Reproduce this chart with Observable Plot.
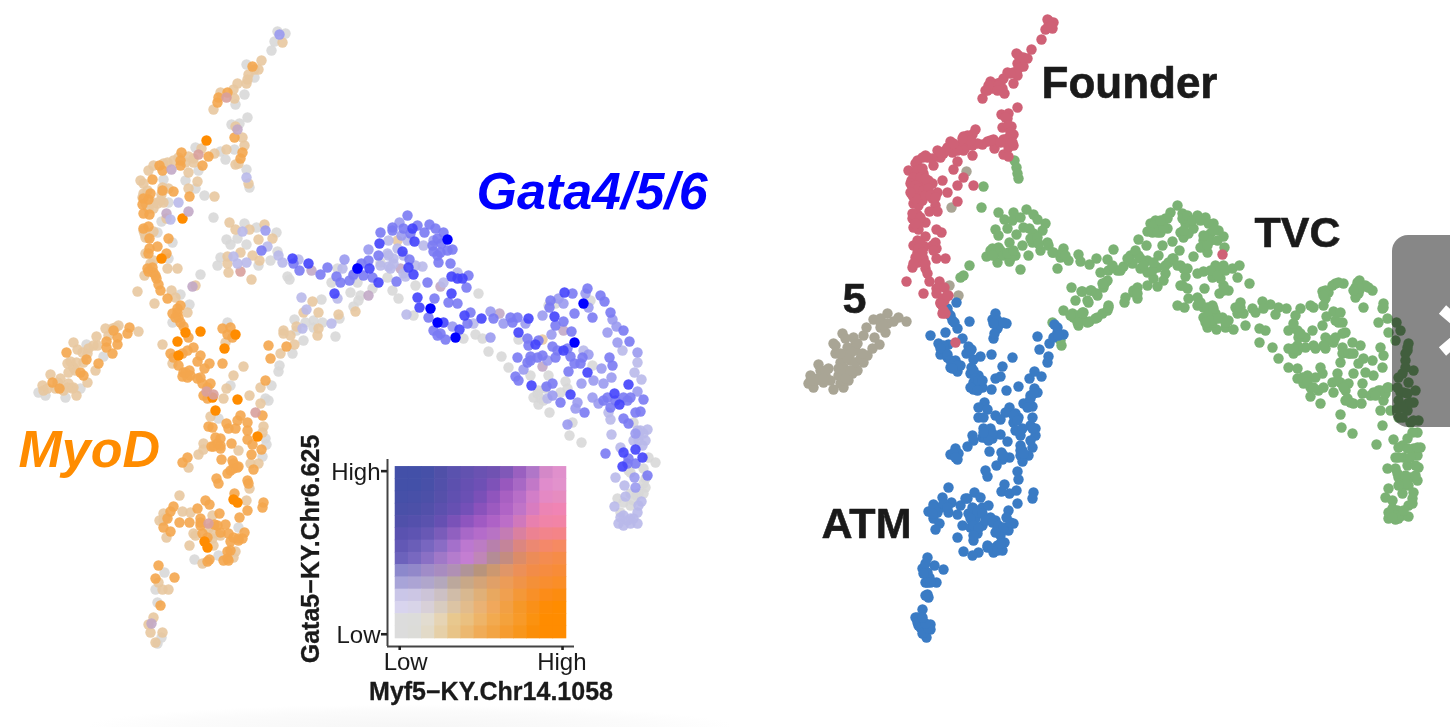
<!DOCTYPE html>
<html><head><meta charset="utf-8">
<script src="https://cdn.jsdelivr.net/npm/d3@7"></script>
<script src="https://cdn.jsdelivr.net/npm/@observablehq/plot@0.6"></script>
<style>
html,body{margin:0;padding:0;background:#fff;overflow:hidden;width:1450px;height:727px}
#stage{position:relative;width:1450px;height:727px;font-family:"Liberation Sans",Arial,sans-serif}
#stage>svg{position:absolute;filter:blur(.5px)}
#shade{position:absolute;left:90px;top:705px;width:640px;height:22px;background:radial-gradient(ellipse at 50% 100%,#f6f6f6 0%,#fbfbfb 50%,rgba(255,255,255,0) 72%)}
</style></head><body><div id="stage"><div id="shade"></div></div>
<script>
// ---- left panel: embedding positions grouped by expression colour class
const leftGrey=[[277,31],[285,33],[274,41],[271,50],[246,64],[254,77],[244,94],[235,104],[247,117],[231,124],[239,123],[195,147],[220,151],[234,149],[225,159],[246,169],[249,187],[163,179],[198,170],[185,180],[195,188],[204,195],[213,217],[168,202],[161,221],[157,232],[172,242],[168,258],[200,274],[180,294],[189,304],[172,322],[227,322],[292,353],[279,365],[278,371],[86,344],[103,356],[80,388],[65,397],[45,395],[38,392],[230,385],[271,385],[218,418],[265,398],[268,400],[265,438],[266,444],[262,456],[238,527],[218,555],[194,559],[164,572],[155,589],[157,602],[161,637],[157,643],[244,223],[256,227],[276,232],[226,239],[237,238],[230,244],[246,244],[277,251],[220,257],[270,260],[258,265],[217,265],[287,276],[289,279],[337,268],[331,282],[357,282],[321,299],[353,306],[358,300],[294,319],[313,320],[305,322],[339,318],[313,327],[387,277],[415,285],[478,293],[413,315],[463,338],[475,334],[488,351],[501,356],[508,367],[518,339],[565,381],[548,375],[538,390],[538,404],[549,412],[592,365],[633,422],[572,422],[569,435],[581,442],[648,457],[643,468],[645,478],[645,487],[643,493],[617,498],[548,305],[555,303],[590,300],[380,262],[372,288],[360,295],[350,292],[392,290],[398,298],[322,322],[335,336],[296,330],[303,340],[482,338],[530,375],[540,398],[545,388],[628,470],[636,495],[630,505],[655,462],[630,493],[638,493],[633,500],[623,502],[620,512],[643,483],[630,472],[533,397],[543,400],[537,393],[567,388],[560,392]];
const leftTan=[[282,42],[261,60],[258,69],[254,69],[248,74],[247,79],[237,83],[246,83],[233,89],[220,92],[234,98],[213,109],[235,126],[242,137],[244,145],[201,148],[188,156],[193,162],[214,153],[226,149],[235,164],[238,163],[248,183],[167,162],[153,165],[148,170],[140,180],[143,183],[188,172],[197,181],[188,188],[214,196],[168,188],[161,194],[143,193],[163,202],[157,203],[153,208],[166,218],[153,231],[144,233],[145,237],[145,253],[153,260],[150,263],[167,268],[177,268],[144,275],[195,285],[137,291],[171,290],[175,297],[154,303],[187,312],[162,344],[172,363],[243,366],[233,375],[226,388],[223,398],[249,395],[260,387],[225,342],[283,333],[294,344],[280,353],[138,331],[118,325],[105,328],[96,336],[93,345],[73,342],[77,349],[87,353],[70,361],[76,362],[95,370],[50,374],[87,382],[60,378],[42,385],[43,390],[72,388],[76,395],[55,388],[68,383],[63,390],[73,367],[67,363],[210,416],[260,403],[263,426],[262,432],[258,463],[250,463],[238,450],[203,443],[203,449],[198,454],[188,467],[249,488],[246,500],[179,495],[182,511],[163,513],[159,520],[190,512],[212,515],[166,537],[193,533],[212,538],[189,545],[235,551],[202,563],[233,557],[158,582],[162,589],[168,589],[153,617],[148,624],[162,632],[150,632],[155,642],[229,222],[235,229],[249,229],[264,224],[272,238],[258,239],[227,256],[240,252],[252,255],[259,260],[227,263],[228,272],[251,279],[312,301],[318,312],[338,314],[355,311],[318,328],[283,330],[397,240],[542,339],[303,312],[296,326],[317,335],[290,335],[112,328],[115,327],[108,335],[97,345],[88,348],[82,352],[83,362],[75,370],[68,372],[57,382],[47,388],[58,383],[67,387],[73,387],[147,190],[142,197],[145,203],[148,208],[160,200],[153,202],[162,187],[185,162],[178,157],[193,158],[173,160],[163,163],[143,230],[147,237],[165,517],[163,520],[208,528],[220,535],[213,533],[195,535],[213,545]];
const leftOrange=[[252,66],[227,92],[218,97],[217,102],[234,137],[181,152],[180,160],[202,165],[208,156],[242,152],[240,158],[159,165],[162,170],[180,165],[152,179],[189,196],[173,191],[162,190],[150,193],[143,198],[148,199],[142,204],[143,213],[149,214],[148,226],[143,228],[149,238],[168,238],[157,246],[149,248],[148,253],[166,253],[148,271],[153,272],[156,278],[158,284],[160,290],[167,298],[180,305],[177,308],[172,313],[178,317],[180,322],[183,326],[188,337],[193,347],[187,350],[182,353],[170,353],[173,357],[178,365],[200,355],[197,361],[209,363],[204,368],[183,372],[189,370],[187,377],[182,376],[200,377],[202,383],[210,383],[207,398],[222,363],[265,380],[222,328],[230,327],[227,334],[232,337],[268,345],[270,358],[286,346],[129,327],[113,330],[127,333],[117,337],[106,341],[117,344],[106,347],[112,353],[66,352],[86,359],[98,363],[80,372],[83,375],[52,382],[59,388],[208,426],[212,427],[237,420],[226,423],[240,415],[247,422],[228,428],[235,428],[247,430],[262,415],[247,439],[252,444],[261,449],[251,454],[253,469],[231,443],[215,437],[220,438],[213,446],[220,448],[211,446],[221,459],[232,460],[238,466],[233,468],[230,470],[227,473],[187,457],[182,462],[216,478],[218,483],[247,480],[234,493],[247,510],[263,502],[262,507],[173,506],[205,500],[209,504],[197,508],[170,511],[167,518],[200,518],[219,513],[239,517],[179,522],[189,522],[214,524],[225,524],[200,525],[163,527],[170,531],[202,533],[220,532],[228,533],[244,532],[242,538],[230,541],[238,540],[227,551],[209,559],[207,561],[223,560],[228,560],[158,565],[155,578],[174,577],[160,605],[152,267],[147,268],[155,275],[177,312],[175,317],[185,372],[190,375],[197,378],[207,387],[203,395],[217,443],[220,445],[233,463],[237,467],[248,483],[200,522],[217,525],[233,537],[238,538],[230,550],[207,537],[227,558]];
const leftDeep=[[206,140],[182,218],[161,258],[185,332],[177,341],[200,331],[178,355],[212,397],[237,399],[235,334],[224,348],[215,410],[257,436],[233,499],[237,502],[204,541],[207,547]];
const leftMauve=[[171,169],[188,211],[166,213],[311,270],[237,129],[192,286],[400,268],[440,286],[499,313],[563,330],[542,366],[151,623],[368,295]];
const leftPink=[[226,97],[198,154],[206,391],[213,394],[255,412],[240,271],[208,523]];
const leftPale=[[246,177],[178,202],[170,219],[242,231],[233,256],[246,262],[237,263],[306,309],[301,297],[302,328],[331,323],[337,298],[282,262],[298,259],[278,255],[267,246],[342,268],[353,275],[388,266],[405,276],[388,255],[393,258],[388,240],[423,245],[422,266],[457,272],[443,282],[406,314],[473,323],[547,398],[583,350],[608,412],[610,419],[611,434],[640,430],[647,429],[645,440],[638,440],[620,447],[615,477],[624,485],[637,362],[634,372],[641,379],[622,350],[625,496],[641,501],[638,505],[637,512],[614,506],[623,515],[630,518],[618,523],[623,525],[630,523],[637,523],[407,240],[397,248],[387,253],[403,255],[393,263],[380,265],[390,268],[415,265],[403,273],[637,430],[638,435],[643,433],[633,440],[642,445],[620,517],[627,520],[633,518]];
const leftSoft=[[279,34],[265,230],[344,259],[368,249],[401,235],[399,222],[433,240],[452,326],[490,311],[503,323],[525,323],[490,337],[523,369],[547,360],[558,298],[585,293],[563,303],[588,307],[612,319],[607,332],[617,342],[637,352],[616,326],[588,354],[581,383],[601,368],[611,377],[593,380],[603,383],[577,402],[575,408],[598,403],[542,315],[637,391],[635,433],[567,424],[634,477],[635,487],[551,334],[552,395],[592,397]];
const leftMid=[[299,270],[320,274],[327,267],[336,276],[340,282],[349,280],[293,263],[261,250],[353,274],[361,263],[368,260],[378,255],[363,275],[372,277],[396,281],[409,259],[380,232],[392,227],[407,215],[403,228],[417,225],[424,232],[429,224],[435,228],[443,232],[441,243],[433,251],[440,252],[452,249],[438,262],[450,263],[468,275],[466,287],[427,282],[448,302],[457,303],[434,298],[428,317],[470,312],[467,323],[493,318],[510,317],[517,317],[512,322],[527,338],[528,345],[538,340],[549,307],[563,321],[555,325],[552,346],[555,357],[542,355],[530,356],[517,357],[515,376],[518,380],[527,362],[571,331],[567,348],[570,356],[574,363],[582,357],[568,371],[612,365],[609,357],[546,386],[560,402],[584,412],[623,397],[643,399],[640,411],[635,412],[623,418],[628,423],[628,458],[635,463],[627,463],[647,475],[572,293],[550,300],[587,288],[600,295],[604,301],[592,317],[574,313],[610,312],[623,330],[629,341],[433,330],[440,333],[445,339],[437,335],[605,453],[552,383],[437,238],[432,245],[447,250],[437,255],[392,230],[410,233],[603,400],[607,397],[615,400],[627,400],[630,397],[610,407],[557,350],[537,357],[530,360],[580,363]];
const leftStrong=[[292,258],[308,263],[357,268],[334,293],[369,268],[378,282],[408,267],[413,274],[402,251],[379,243],[412,228],[414,241],[451,276],[457,278],[462,278],[451,293],[417,297],[419,307],[443,322],[464,315],[481,318],[528,318],[518,332],[535,344],[554,316],[563,350],[587,372],[531,385],[570,394],[614,393],[619,404],[628,384],[623,452],[635,449],[642,457],[622,466],[564,292],[459,329]];
const leftPure=[[447,239],[430,308],[437,322],[455,337],[574,342],[583,303],[357,268]];
// ---- right panel: embedding positions by cluster
const founder=[[1047,19],[1053,22],[1048,25],[1052,28],[1045,29],[1041,39],[1031,49],[1016,53],[1027,58],[1020,58],[1017,63],[1023,66],[1013,72],[1007,72],[1017,75],[1013,83],[1003,78],[997,83],[990,81],[1002,88],[1004,93],[992,88],[987,90],[982,98],[1017,107],[1001,114],[1008,113],[1007,118],[1002,127],[1011,126],[1013,134],[1009,140],[1003,139],[1013,145],[1008,147],[1003,154],[1008,156],[994,148],[993,139],[987,141],[982,144],[975,129],[972,134],[963,136],[968,140],[972,145],[972,155],[965,147],[950,141],[958,145],[948,147],[952,152],[943,153],[937,150],[940,157],[957,161],[932,158],[925,155],[917,160],[933,165],[953,169],[963,177],[957,185],[973,185],[918,167],[908,170],[915,173],[923,173],[928,180],[942,180],[911,180],[918,182],[923,185],[932,183],[912,187],[917,192],[937,192],[947,192],[927,193],[932,198],[912,195],[913,203],[922,200],[918,205],[935,205],[957,201],[929,211],[937,211],[917,214],[912,218],[925,222],[918,222],[913,227],[918,229],[936,229],[941,232],[925,236],[917,240],[935,242],[913,245],[924,246],[917,252],[936,248],[936,258],[945,258],[923,258],[917,262],[912,267],[925,268],[927,273],[929,281],[906,281],[939,281],[936,288],[944,287],[936,293],[923,293],[948,295],[944,300],[941,304],[942,313],[945,313],[947,295],[955,342],[1222,254],[940,302],[1048,20],[1050,26],[1018,55],[1023,57],[1018,68],[1010,73],[1000,82],[993,85],[998,85],[988,85],[997,90],[985,90],[1005,117],[1008,125],[1010,132],[1007,138],[1000,142],[1012,142],[990,140],[977,143],[967,135],[970,140],[962,138],[963,150],[957,150],[945,150],[947,147],[953,143],[940,152],[927,157],[922,157],[915,163],[917,170],[922,168],[913,177],[920,177],[925,178],[910,183],[915,185],[918,188],[923,190],[928,188],[915,198],[925,195],[930,195],[935,197],[910,192],[915,220],[912,213],[920,217],[915,223],[917,243],[920,243],[918,248],[932,245],[933,250],[922,252],[915,257],[913,263],[925,263],[943,298],[947,295],[940,303],[943,310]];
const tvc=[[1014,160],[1016,167],[1017,173],[1018,178],[983,186],[981,207],[998,212],[1013,212],[1026,209],[1004,219],[1012,220],[1020,217],[1033,214],[1037,219],[1045,223],[995,229],[1007,228],[998,235],[1023,227],[1029,228],[1042,230],[1016,234],[1033,237],[1009,242],[1022,245],[1032,242],[1047,242],[1040,250],[992,248],[998,247],[1002,253],[986,256],[993,253],[1008,252],[1015,255],[997,262],[1009,261],[1028,255],[969,265],[963,275],[960,277],[1020,269],[1052,252],[1063,248],[1060,257],[1068,260],[1078,254],[1080,261],[1057,268],[1089,264],[1096,258],[1113,249],[1107,259],[1100,272],[1108,270],[1117,270],[1123,266],[1130,255],[1138,239],[1146,245],[1138,255],[1147,260],[1132,263],[1140,268],[1147,272],[1157,267],[1153,278],[1158,255],[1162,245],[1150,223],[1147,231],[1157,227],[1165,218],[1170,212],[1155,220],[1160,232],[1167,228],[1177,205],[1182,213],[1188,218],[1185,223],[1197,215],[1205,217],[1213,223],[1180,232],[1193,228],[1183,237],[1172,241],[1210,233],[1218,230],[1223,236],[1203,240],[1200,247],[1224,247],[1207,252],[1179,250],[1193,256],[1172,258],[1165,265],[1180,265],[1187,268],[1197,273],[1203,271],[1185,276],[1165,273],[1163,280],[1157,286],[1147,285],[1137,287],[1133,292],[1137,298],[1125,297],[1124,302],[1105,282],[1103,287],[1090,290],[1082,291],[1071,287],[1097,295],[1075,300],[1088,302],[1063,310],[1072,313],[1082,312],[1108,305],[1107,310],[1102,313],[1097,317],[1089,321],[1078,325],[1082,318],[1073,317],[1180,285],[1187,288],[1204,288],[1219,293],[1228,290],[1223,285],[1212,277],[1220,278],[1215,265],[1223,265],[1232,268],[1239,265],[1237,277],[1249,283],[1177,305],[1184,307],[1188,298],[1197,297],[1197,305],[1203,307],[1212,305],[1203,317],[1215,313],[1222,317],[1228,320],[1207,327],[1216,329],[1225,327],[1233,329],[1212,322],[1240,302],[1235,307],[1243,313],[1237,313],[1252,308],[1255,312],[1262,301],[1270,304],[1263,308],[1278,307],[1286,308],[1275,314],[1245,325],[1259,328],[1265,330],[1259,342],[1272,347],[1278,358],[1288,367],[1297,368],[1288,348],[1293,353],[1300,308],[1295,315],[1288,330],[1297,330],[1298,337],[1305,337],[1312,330],[1313,307],[1310,305],[1322,291],[1335,283],[1343,283],[1328,292],[1325,298],[1323,305],[1333,311],[1340,312],[1326,316],[1322,325],[1335,320],[1342,322],[1345,332],[1325,337],[1333,342],[1313,345],[1305,347],[1297,350],[1325,348],[1342,347],[1352,342],[1360,345],[1350,353],[1363,358],[1340,362],[1358,363],[1372,360],[1380,347],[1383,355],[1382,367],[1353,373],[1373,375],[1365,372],[1337,373],[1320,367],[1322,373],[1307,375],[1315,377],[1297,378],[1303,383],[1310,387],[1318,390],[1310,396],[1320,403],[1332,382],[1333,392],[1340,382],[1348,383],[1345,390],[1347,398],[1353,403],[1361,403],[1362,383],[1362,393],[1370,395],[1378,390],[1388,387],[1383,400],[1380,410],[1390,410],[1340,414],[1341,427],[1352,433],[1382,425],[1376,444],[1359,280],[1355,287],[1365,285],[1372,290],[1358,293],[1355,297],[1363,307],[1383,303],[1382,308],[1387,318],[1378,322],[1388,332],[1396,322],[1400,330],[1395,340],[1408,343],[1407,350],[1405,360],[1413,370],[1398,377],[1408,382],[1397,387],[1415,390],[1403,392],[1398,400],[1413,402],[1407,403],[1397,408],[1407,410],[1398,417],[1418,420],[1410,422],[1417,432],[1407,438],[1393,439],[1420,447],[1402,445],[1413,448],[1395,457],[1417,455],[1403,457],[1387,468],[1395,468],[1418,467],[1407,465],[1398,477],[1410,477],[1417,480],[1402,485],[1408,485],[1388,488],[1413,492],[1402,493],[1385,497],[1392,500],[1412,498],[1408,505],[1397,510],[1390,513],[1402,515],[1408,516],[1395,519],[1388,518],[1052,322],[1061,345],[1060,340],[1081,291],[1091,290],[1096,293],[1087,300],[1083,312],[1095,318],[1087,322],[1153,225],[1152,232],[1157,232],[1162,223],[1167,218],[1163,227],[1160,220],[1182,218],[1187,215],[1192,220],[1200,220],[1208,223],[1213,230],[1210,240],[1203,235],[1188,233],[1183,230],[1207,245],[1217,240],[1215,268],[1220,270],[1210,270],[1217,275],[1225,270],[1223,290],[1135,250],[1127,258],[1120,270],[1112,265],[1140,258],[1143,265],[1152,270],[1153,262],[1168,262],[1173,258],[1177,265],[1183,268],[1182,285],[1107,280],[1102,283],[1133,290],[1137,293],[1108,307],[1077,315],[1082,313],[1070,315],[1077,322],[1200,302],[1207,307],[1213,308],[1207,315],[1210,320],[1218,318],[1225,322],[1205,322],[1240,307],[1293,323],[1300,333],[1325,290],[1332,285],[1338,282],[1323,295],[1338,322],[1342,333],[1330,340],[1335,337],[1323,345],[1297,345],[1293,348],[1315,348],[1342,353],[1348,353],[1353,353],[1302,377],[1307,382],[1313,387],[1323,387],[1337,380],[1343,387],[1345,400],[1350,402],[1373,392],[1380,390],[1385,393],[1387,387],[1375,395],[1357,282],[1360,288],[1368,287],[1353,290],[1383,307],[1407,347],[1405,353],[1405,367],[1402,373],[1400,392],[1407,393],[1410,402],[1402,407],[1402,417],[1413,420],[1412,432],[1398,447],[1407,448],[1417,447],[1398,457],[1410,457],[1415,465],[1397,473],[1405,475],[1415,475],[1405,483],[1398,485],[1412,503],[1392,508],[1395,515],[1398,518],[1403,510],[1388,512],[1392,517],[997,248],[995,253],[1000,250],[990,250],[992,255],[1003,255],[1010,258],[1007,253],[1013,250],[1033,233],[1030,238],[1037,237],[1038,243],[1048,245],[1053,252],[1062,252],[1065,255]];
const atm=[[956,302],[947,308],[950,315],[954,322],[957,328],[969,321],[930,335],[945,332],[962,338],[938,343],[948,344],[944,348],[940,354],[968,346],[971,349],[966,353],[947,357],[955,360],[950,367],[957,371],[960,365],[980,356],[973,359],[991,354],[1012,357],[1002,366],[995,317],[1000,323],[1006,323],[992,319],[997,328],[993,338],[994,333],[971,367],[970,373],[978,375],[973,382],[980,383],[973,389],[982,387],[995,378],[1000,376],[991,389],[1006,390],[1018,386],[1029,378],[1034,371],[1041,376],[1037,336],[1049,343],[1039,349],[1048,356],[1047,362],[1054,324],[1057,332],[1063,334],[1053,337],[1034,388],[1037,392],[1030,395],[1028,402],[1023,403],[1032,406],[984,402],[978,407],[987,409],[1009,407],[1005,412],[1015,413],[1018,417],[1032,417],[978,417],[983,417],[995,415],[1000,419],[1013,422],[1030,425],[1035,428],[1015,430],[1022,428],[983,428],[990,428],[987,433],[982,437],[992,438],[1000,434],[972,435],[973,440],[967,446],[1035,435],[1020,435],[1007,441],[1030,440],[1032,447],[1020,445],[1022,450],[989,451],[1001,452],[955,448],[950,454],[958,453],[957,459],[1009,457],[1002,459],[996,465],[1020,455],[1028,455],[1022,461],[985,470],[987,476],[1017,471],[1018,479],[948,487],[1004,484],[1001,491],[1009,493],[1016,490],[1017,503],[1033,492],[1032,498],[974,492],[967,498],[942,497],[980,497],[951,502],[960,505],[933,504],[928,511],[940,507],[948,512],[957,514],[933,518],[939,523],[935,529],[973,508],[982,507],[988,505],[968,513],[990,517],[975,518],[962,525],[970,527],[982,525],[995,520],[1008,510],[1006,517],[1013,523],[1008,530],[997,528],[1000,535],[977,533],[957,537],[973,540],[1004,542],[997,545],[987,547],[993,552],[1002,550],[963,551],[978,552],[972,555],[927,557],[922,568],[934,565],[943,569],[927,572],[929,577],[925,582],[936,582],[927,594],[928,597],[922,609],[917,617],[922,620],[930,624],[918,625],[925,628],[930,629],[922,633],[926,637],[948,313],[952,320],[995,313],[997,320],[1003,322],[993,323],[1057,327],[1058,335],[943,345],[940,348],[947,354],[950,360],[953,363],[957,365],[952,368],[970,350],[973,370],[975,378],[978,380],[970,387],[977,390],[982,380],[1030,398],[1033,393],[1027,407],[1013,415],[1017,420],[1032,428],[987,430],[985,437],[992,433],[988,440],[983,432],[1020,450],[1023,453],[953,453],[955,457],[1003,455],[933,507],[937,512],[932,513],[943,503],[947,507],[965,498],[972,507],[977,512],[982,513],[970,518],[973,525],[978,528],[985,520],[992,522],[998,525],[1003,527],[1010,522],[995,532],[973,535],[987,545],[992,548],[997,550],[1000,543],[925,563],[923,573],[927,582],[930,582],[925,595],[915,617],[917,622],[920,627],[923,632],[928,628],[925,623],[922,617]];
const five=[[887,313],[880,318],[873,319],[898,317],[906,321],[893,321],[887,323],[880,327],[866,327],[885,332],[842,333],[853,337],[863,335],[874,337],[845,338],[833,343],[879,344],[855,343],[847,347],[872,348],[835,353],[855,350],[867,355],[843,355],[863,362],[818,364],[850,360],[840,362],[828,368],[820,370],[843,367],[857,370],[852,373],[810,375],[825,375],[838,375],[817,378],[808,383],[830,380],[848,380],[840,383],[813,387],[823,382],[843,387],[833,389],[966,171],[951,207],[949,285],[958,295],[880,322],[883,325],[857,343],[850,353],[847,358],[855,362],[860,358],[838,368],[843,373],[850,370],[820,377],[825,370],[815,380],[810,380],[823,378],[842,380],[845,378],[862,353],[840,353],[835,345]];
// ---- text labels
const labelText=["Founder","TVC","5","ATM"], labelX=[1041,1254,842,821], labelY=[83,233,299,524], labelSize=[44,43,43,43];
const geneText=["Gata4/5/6","MyoD"], geneX=[476,18], geneY=[192,450], geneFill=["#0000ff","#ff8c00"];
// ---- viewer overlay
const overlayBox=[{x1:1392,x2:1490,y1:235,y2:427}];
const overlayArrow=[[1442,309],[1466,330],[1442,351]];
// ---- blend legend: colours, top row = high Gata5, left column = low Myf5
const blendRows=[
["#4350a8","#4350a8","#4650a8","#5050a8","#5a52ae","#6252b0","#6a52b2","#7052b2","#8058b8","#9a60c0","#b076c8","#d488c8","#e090cc"],
["#4350a8","#4350a8","#4850a8","#5250aa","#5c50ae","#6650b2","#6e50b5","#7e52b8","#9858be","#a868c5","#c278c8","#e08ccc","#e292cc"],
["#4650a8","#4850a8","#4c50a8","#5650aa","#6050b0","#6a50b4","#7a50b8","#9055bd","#a860c2","#b86ec8","#d27ec8","#e489c4","#e68cc0"],
["#4a50a8","#4c50a8","#5250aa","#5c50ae","#6650b2","#7450b8","#8a52bc","#9c5ac0","#b064c6","#c074c8","#d87cc0","#ec84b4","#f084b4"],
["#5050aa","#5450ac","#5a52ae","#6650b2","#7a52b8","#8e55bf","#a05ac3","#ae62c6","#bc6ec8","#d078bc","#e880ae","#f084a8","#f284a6"],
["#5a52b0","#5e54b2","#6858b5","#7a5cba","#9060c0","#a868c8","#b46cca","#b873c4","#c47cb4","#da80a0","#ec8292","#f2848c","#f48488"],
["#6258b5","#6a5eb8","#7866c0","#8a6cc5","#a470cb","#bc78d0","#bc7cc4","#b880ac","#c4849a","#dc8680","#ec8872","#f4886a","#f68a62"],
["#6c62bc","#7868c0","#8a70c5","#a078c8","#b47ccd","#c47ed2","#c086b8","#b48c96","#c48c80","#dc8c68","#ec8c58","#f48c50","#f68c48"],
["#8c88cc","#9288ca","#a08cc8","#a88cc0","#b090b4","#b09498","#b8947c","#cc9870","#e09668","#ec9058","#f28c48","#f68c40","#f88c38"],
["#a8a4d8","#aca4d4","#b0a6cc","#b4a8bc","#bca89c","#c8a888","#d4a478","#e0a068","#ec9c58","#f09448","#f49038","#f88e30","#fa8e28"],
["#cac6e8","#ccc6e4","#ccc4d8","#ccc0c4","#d0bca8","#d8b890","#e0b078","#e8a860","#f0a050","#f49838","#f89028","#fc8c18","#fc8c10"],
["#d8d4ee","#d8d4e8","#d8d0d8","#d8ccc0","#dcc4a4","#e2bc8c","#eab274","#f0a85c","#f2a044","#f69828","#fa9018","#fe8c06","#ff8c00"],
["#dcdcdc","#dcdcda","#e2dcd0","#e6d4b4","#e8c88e","#eac080","#eeb468","#f2aa50","#f4a23c","#f89a28","#fb9210","#ff8c00","#ff8c00"],
["#dcdcdc","#dcdcd8","#e2dac8","#e6d0a8","#e8c488","#ecb870","#f0ac58","#f2a444","#f69c30","#f8961c","#fb8e08","#ff8c00","#ff8c00"]];
const xTickValues=[0.32,12.7], yTickValues=[0.35,13.65], tickNames=["Low","High"], xLabelValues=[0.77,12.65];
const xTitle="Myf5\u2212KY.Chr14.1058", yTitle="Gata5\u2212KY.Chr6.625";

const FONT='"Liberation Sans",Arial,sans-serif';
const dots=(a,fill,o=.9)=>Plot.dot(a,{x:d=>d[0],y:d=>d[1],r:5.2,fill,fillOpacity:o});

const main=Plot.plot({width:1450,height:727,margin:0,
  x:{domain:[0,1450],range:[0,1450],axis:null},
  y:{domain:[727,0],range:[727,0],axis:null},
  style:{fontFamily:FONT,background:"transparent"},
  marks:[
    dots(leftGrey,"#d8d8d8"),dots(leftTan,"#e8c8a0"),dots(leftOrange,"#f4a64e"),dots(leftDeep,"#ff8c00",1),
    dots(leftMauve,"#c2a8c6"),dots(leftPink,"#d8a09c"),dots(leftPale,"#b9b9ea"),dots(leftSoft,"#9a9aef"),
    dots(leftMid,"#7a7af3"),dots(leftStrong,"#4242fc"),dots(leftPure,"#0000ff",1),
    dots(five,"#a9a595",1),dots(tvc,"#7bb274",1),dots(atm,"#3a7bc4",1),dots(founder,"#cf6176",1),
    Plot.text(labelText,{x:(d,i)=>labelX[i],y:(d,i)=>labelY[i],text:d=>d,textAnchor:"start",fontSize:(d,i)=>labelSize[i],fontWeight:"bold",fill:"#1a1a1a",stroke:"#1a1a1a",strokeWidth:.6}),
    Plot.text(geneText,{x:(d,i)=>geneX[i],y:(d,i)=>geneY[i],text:d=>d,textAnchor:"start",fontSize:52,fontWeight:"bold",fontStyle:"italic",fill:(d,i)=>geneFill[i]}),
    Plot.rect(overlayBox,{x1:"x1",x2:"x2",y1:"y1",y2:"y2",rx:16,fill:"#000",fillOpacity:.47}),
    Plot.line(overlayArrow,{x:d=>d[0],y:d=>d[1],stroke:"#fff",strokeWidth:11,curve:"linear",strokeLinecap:"butt",strokeLinejoin:"miter"})
  ]});
main.style.left="0";main.style.top="0";
document.getElementById("stage").append(main);

const cells=blendRows.flatMap((r,j)=>r.map((c,i)=>({i,j,c})));
const inset=Plot.plot({width:310,height:290,marginLeft:97,marginRight:26,marginTop:34,marginBottom:69,
  x:{domain:[-0.61,13.61],axis:null},
  y:{domain:[14.65,-0.6],axis:null},
  style:{fontFamily:FONT,background:"transparent",overflow:"visible"},
  marks:[
    Plot.rect(cells,{x1:d=>d.i,x2:d=>d.i+1,y1:d=>d.j,y2:d=>d.j+1,fill:d=>d.c,inset:-0.3}),
    Plot.ruleX([-0.61],{stroke:"#444",strokeWidth:2}),
    Plot.ruleY([14.65],{stroke:"#444",strokeWidth:2}),
    Plot.axisX({anchor:"bottom",ticks:xTickValues,tickFormat:null,text:null,tickSize:4,label:null,stroke:"#222",strokeWidth:2.6}),
    Plot.axisY({anchor:"left",ticks:yTickValues,tickFormat:null,text:null,tickSize:6,label:null,stroke:"#222",strokeWidth:2.6}),
    Plot.text(tickNames,{x:(d,i)=>xLabelValues[i],frameAnchor:"bottom",dy:23,fontSize:24,fill:"#1a1a1a"}),
    Plot.text(tickNames,{y:(d,i)=>yTickValues[1-i],frameAnchor:"left",textAnchor:"end",dx:-7,dy:1,fontSize:24,fill:"#1a1a1a"}),
    Plot.text([xTitle],{frameAnchor:"bottom",dy:53,dx:10,fontSize:25,fontWeight:"bold",fill:"#1a1a1a",stroke:"#1a1a1a",strokeWidth:.3}),
    Plot.text([yTitle],{frameAnchor:"left",rotate:-90,textAnchor:"middle",dx:-77,dy:-4,fontSize:25,fontWeight:"bold",fill:"#1a1a1a",stroke:"#1a1a1a",strokeWidth:.3})
  ]});
inset.style.left="290px";inset.style.top="425px";
document.getElementById("stage").append(inset);
</script></body></html>
